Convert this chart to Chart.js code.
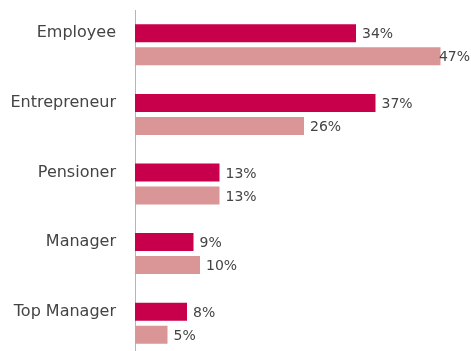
<!DOCTYPE html>
<html>
<head>
<meta charset="utf-8">
<script src="https://cdn.jsdelivr.net/npm/chart.js@4.4.1/dist/chart.umd.min.js"></script>
<style>
  html, body { margin: 0; padding: 0; background: #fff; overflow: hidden; }
  #wrap { position: absolute; left: 0; top: 0; width: 471px; height: 360px; }
</style>
</head>
<body>
<div id="wrap"><canvas id="c" width="471" height="360"></canvas></div>
<script>
const categories = ['Employee', 'Entrepreneur', 'Pensioner', 'Manager', 'Top Manager'];
const seriesA = [34, 37, 13, 9, 8];
const seriesB = [47, 26, 13, 10, 5];

const FONT = '"DejaVu Sans", "Liberation Sans", sans-serif';
const TEXT_COLOR = '#444';

// Percent labels at the end of each bar, kept inside the canvas
const valueLabels = {
  id: 'valueLabels',
  afterDatasetsDraw(chart) {
    const ctx = chart.ctx;
    ctx.save();
    ctx.font = '14px ' + FONT;
    ctx.fillStyle = TEXT_COLOR;
    ctx.textBaseline = 'middle';
    ctx.textAlign = 'left';
    chart.data.datasets.forEach((ds, di) => {
      chart.getDatasetMeta(di).data.forEach((bar, i) => {
        const txt = ds.data[i] + '%';
        const w = ctx.measureText(txt).width;
        let x = bar.x + 6;
        if (x + w > chart.width - 1) x = chart.width - 1 - w;
        ctx.fillText(txt, x, bar.y + 1.5);
      });
    });
    ctx.restore();
  }
};

new Chart(document.getElementById('c'), {
  type: 'bar',
  data: {
    labels: categories,
    datasets: [
      { data: seriesA, backgroundColor: '#C8004B', categoryPercentage: 0.661, barPercentage: 0.783 },
      { data: seriesB, backgroundColor: '#DA9696', categoryPercentage: 0.661, barPercentage: 0.783 }
    ]
  },
  options: {
    indexAxis: 'y',
    responsive: false,
    animation: false,
    layout: { padding: { top: 10, right: 11, bottom: 2, left: 0 } },
    plugins: { legend: { display: false }, tooltip: { enabled: false } },
    scales: {
      x: { display: false, min: 0, max: 50 },
      y: {
        afterFit(scale) {
          scale.width = 135;
          scale.paddingTop = 0;
          scale.paddingBottom = 0;
        },
        grid: { display: false, drawTicks: false },
        border: { display: true, color: '#b5b5b5', width: 1 },
        ticks: {
          padding: 19,
          labelOffset: -11.5,
          color: TEXT_COLOR,
          font: { family: FONT, size: 16 }
        }
      }
    }
  },
  plugins: [valueLabels]
});
</script>
</body>
</html>
